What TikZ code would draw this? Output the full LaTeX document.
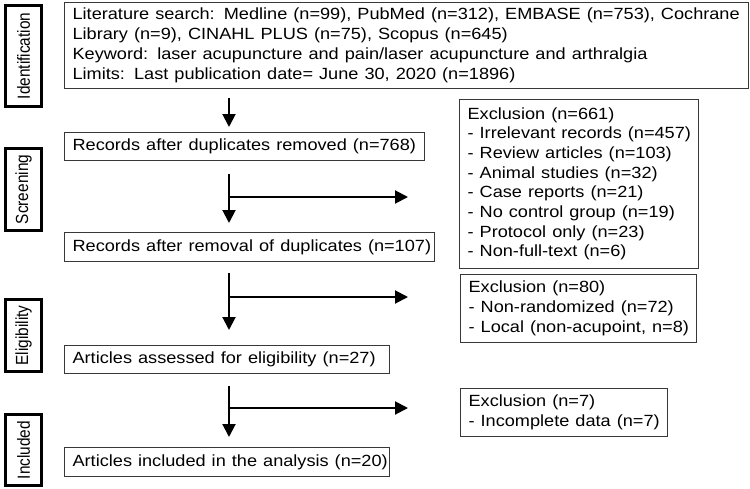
\documentclass[tikz,border=0pt]{standalone}
\usepackage{fontspec}
\setmainfont{Liberation Sans}
\usetikzlibrary{arrows.meta}
\newcommand{\wtxt}[1]{\scalebox{1.12}[1]{\begin{tabular}{@{}l@{}}#1\end{tabular}}}
\newcommand{\stxt}[1]{\scalebox{1}[1.14]{#1}}
\begin{document}
\begin{tikzpicture}[x=1pt,y=-1pt,
  mainbox/.style={draw=black!78, line width=1.2pt, anchor=north west, inner xsep=8pt, inner ysep=0pt,
    align=left, font=\fontsize{16.2}{19.7}\selectfont},
  sidebox/.style={draw=black, line width=3.2pt, rotate=90, inner sep=0pt, minimum height=36pt,
    font=\fontsize{15.4}{18}\selectfont},
  arr/.style={line width=2pt, -{Triangle[length=13pt,width=13pt]}}]
\useasboundingbox (0,0) rectangle (750,488);
% side labels
\node[sidebox, minimum width=101pt] (sid) at (23.5,56) {\stxt{Identification}};
\node[sidebox, minimum width=82pt] (sscr) at (23.5,189.5) {\stxt{Screening}};
\node[sidebox, minimum width=72pt] (selig) at (23.5,335.5) {\stxt{Eligibility}};
\node[sidebox, minimum width=71pt] (sinc) at (23.5,450) {\stxt{Included}};
% main boxes
\node[mainbox, minimum width=684pt, minimum height=86pt, text width=668pt] (b1) at (64,2)
  {\wtxt{Literature search: Medline (n=99), PubMed (n=312), EMBASE (n=753), Cochrane\\
   Library (n=9), CINAHL PLUS (n=75), Scopus (n=645)\\
   Keyword: laser acupuncture and pain/laser acupuncture and arthralgia\\
   Limits: Last publication date= June 30, 2020 (n=1896)}};
\node[mainbox, minimum width=360pt, minimum height=28pt, text width=344pt] (b2) at (64,132)
  {\wtxt{Records after duplicates removed (n=768)}};
\node[mainbox, minimum width=370pt, minimum height=29pt, text width=354pt] (b3) at (64,232)
  {\wtxt{Records after removal of duplicates (n=107)}};
\node[mainbox, minimum width=325pt, minimum height=28pt, text width=309pt] (b4) at (64,345)
  {\wtxt{Articles assessed for eligibility (n=27)}};
\node[mainbox, minimum width=325pt, minimum height=29pt, text width=309pt] (b5) at (64,447)
  {\wtxt{Articles included in the analysis (n=20)}};
% exclusion boxes
\node[mainbox, minimum width=239pt, minimum height=169pt, text width=223pt] (e1) at (459,99)
  {\wtxt{Exclusion (n=661)\\
   - Irrelevant records (n=457)\\
   - Review articles (n=103)\\
   - Animal studies (n=32)\\
   - Case reports (n=21)\\
   - No control group (n=19)\\
   - Protocol only (n=23)\\
   - Non-full-text (n=6)}};
\node[mainbox, minimum width=236pt, minimum height=68pt, text width=220pt] (e2) at (460,274)
  {\wtxt{Exclusion (n=80)\\
   - Non-randomized (n=72)\\
   - Local (non-acupoint, n=8)}};
\node[mainbox, minimum width=207pt, minimum height=48pt, text width=191pt] (e3) at (460,388)
  {\wtxt{Exclusion (n=7)\\
   - Incomplete data (n=7)}};
% connectors
\coordinate (col) at (229,0);
\coordinate (br1) at (229,197);
\coordinate (br2) at (229,297);
\coordinate (br3) at (229,408);
\draw[arr, shorten <=9pt, shorten >=5pt] (col |- b1.south) -- (col |- b2.north);
\draw[arr, shorten <=13pt, shorten >=9pt] (col |- b2.south) -- (col |- b3.north);
\draw[arr, shorten >=51pt] (br1) -- (br1 -| e1.west);
\draw[arr, shorten <=11pt, shorten >=15pt] (col |- b3.south) -- (col |- b4.north);
\draw[arr, shorten >=52pt] (br2) -- (br2 -| e2.west);
\draw[arr, shorten <=12pt, shorten >=10pt] (col |- b4.south) -- (col |- b5.north);
\draw[arr, shorten >=52pt] (br3) -- (br3 -| e3.west);
\end{tikzpicture}
\end{document}
